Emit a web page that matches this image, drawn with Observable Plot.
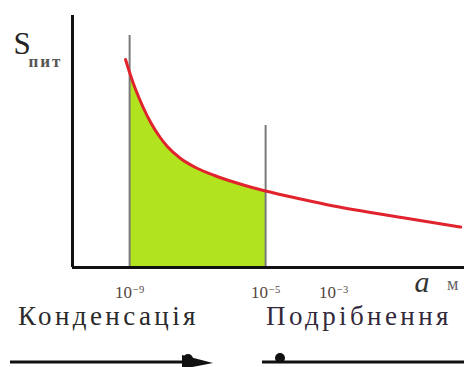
<!DOCTYPE html>
<html><head><meta charset="utf-8">
<script src="https://cdn.jsdelivr.net/npm/d3@7"></script>
<script src="https://cdn.jsdelivr.net/npm/@observablehq/plot@0.6"></script>
<style>
html,body{margin:0;padding:0;background:#fff;}
#wrap{position:relative;width:464px;height:367px;overflow:hidden;font-family:"Liberation Serif","DejaVu Serif","Times New Roman",serif;}
#chart{position:absolute;left:0;top:0;}
.proc{position:absolute;font-size:27px;letter-spacing:3.4px;line-height:1;color:#2a2a2a;top:303px;white-space:nowrap;}
#arrows{position:absolute;left:0;top:340px;}
</style></head><body>
<div id="wrap">
<div id="chart"></div>
<div class="proc" id="p1" style="left:18px">Конденсація</div>
<div class="proc" id="p2" style="left:266px;color:#32283a">Подрібнення</div>
<svg id="arrows" width="464" height="27">
  <line x1="10" y1="22" x2="200" y2="22" stroke="#111" stroke-width="3"/>
  <polygon points="182,15 213,23 182,29" fill="#111"/>
  <circle cx="188" cy="19" r="5" fill="#111"/>
  <line x1="262" y1="22" x2="464" y2="22" stroke="#111" stroke-width="3"/>
  <circle cx="280" cy="18" r="5" fill="#111"/>
</svg>
</div>
<script>
// particle size a, as log10 (metres)
const logA = [-9.12, -9.0, -8.9, -8.8, -8.6, -8.38, -8.1, -7.89, -7.5, -7.06, -6.5, -5.94, -5.5, -5.0, -3.97, -3.0, -1.0, 0.74];
// specific surface S_пит (relative units)
const S = [208, 195, 185, 176, 160, 145, 130, 121, 109, 100, 92, 85.5, 81, 76.5, 68.5, 61.5, 50, 40.5];
const boundX = [-9, -5];
const boundTop = [232, 142];
const tickVals = [-9, -5, -3];
const xDomain = [-10.68, 0.85];
const yDomain = [0, 252];

const data = logA.map((x, i) => ({x, s: S[i]}));
const fillData = data.filter(d => d.x >= boundX[0] && d.x <= boundX[1]);
const bounds = boundX.map((x, i) => ({x, top: boundTop[i]}));
const serif = "'Liberation Serif', 'DejaVu Serif', serif";

const chart = Plot.plot({
  width: 464, height: 300,
  marginLeft: 72, marginRight: 0, marginTop: 15, marginBottom: 33,
  x: {domain: xDomain, label: null},
  y: {domain: yDomain, axis: null},
  style: {fontFamily: serif, background: "transparent", overflow: "visible"},
  marks: [
    Plot.areaY(fillData, {x: "x", y: "s", fill: "#b1e31f", curve: "monotone-x"}),
    Plot.ruleX(bounds, {x: "x", y1: 0, y2: "top", stroke: "#7a7a7a", strokeWidth: 2}),
    Plot.line(data, {x: "x", y: "s", stroke: "#e0232c", strokeWidth: 3, curve: "monotone-x"}),
    Plot.ruleY([0], {stroke: "#111", strokeWidth: 3}),
    Plot.ruleX([xDomain[0]], {y1: yDomain[0], y2: yDomain[1], stroke: "#111", strokeWidth: 3}),
    Plot.axisX({ticks: tickVals, tickSize: 0, tickPadding: 18, tickFormat: v => "10^" + v, fontSize: 17, fill: "#55463c", label: null}),
    Plot.text(["S"], {frameAnchor: "top-left", dx: -59, dy: 16, textAnchor: "start", fontSize: 31, fill: "#222"}),
    Plot.text(["пит"], {frameAnchor: "top-left", dx: -44, dy: 39, textAnchor: "start", fontSize: 17, fontWeight: "bold", fill: "#555", style: "letter-spacing:2px"}),
    Plot.text(["a"], {frameAnchor: "bottom-right", dx: -35, dy: 24, fontSize: 30, fontStyle: "italic", fill: "#333"}),
    Plot.text(["м"], {frameAnchor: "bottom-right", dx: -6, dy: 22, fontSize: 18, fill: "#666"})
  ]
});
// render exponents as real superscripts
d3.select(chart).selectAll("text").each(function () {
  const t = this.textContent;
  if (/^10\^/.test(t)) {
    const exp = t.split("^")[1];
    const el = d3.select(this);
    el.text("10").attr("font-size", 17);
    el.append("tspan").attr("dy", "-0.45em").attr("dx", "1").attr("font-size", "0.62em").text(exp.replace("-", "\u2212"));
  }
  if (t === "пит") d3.select(this).attr("letter-spacing", 2);
});
document.getElementById("chart").append(chart);
</script>
</body></html>
